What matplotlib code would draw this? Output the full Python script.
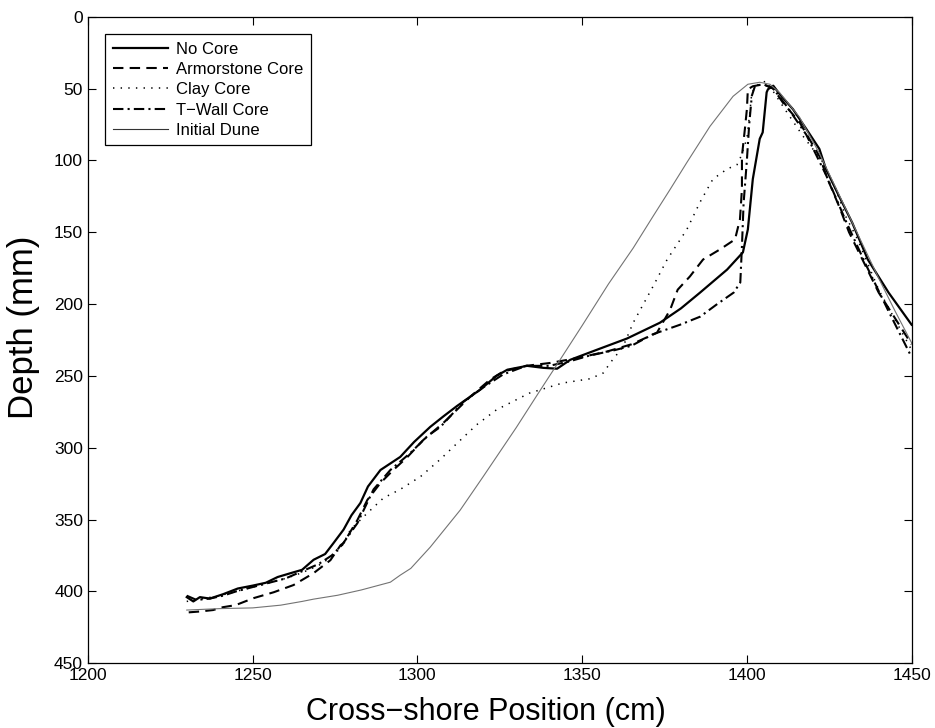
import matplotlib
matplotlib.use("Agg")
import matplotlib.pyplot as plt

plt.rcParams['font.family'] = ['Liberation Sans', 'DejaVu Sans']
plt.rcParams['lines.scale_dashes'] = False

# profiles: cross-shore position (cm) and depth (mm)
no_core_x = [1230, 1232, 1234, 1237, 1241, 1245.5, 1250, 1254, 1257.6, 1262, 1265, 1268.5,
             1272, 1274.5, 1277.6, 1280, 1282.7, 1285, 1288.8, 1294.8, 1299, 1303.9, 1308,
             1312, 1319, 1324, 1327.3, 1333.3, 1338.2, 1342.4, 1346.4, 1354.5, 1363.6,
             1373.6, 1380, 1385.8, 1394, 1398.8, 1400.3, 1401.8, 1403.9, 1404.8, 1406,
             1406.4, 1408, 1410, 1414, 1418, 1422, 1424, 1428, 1432, 1436.7, 1443, 1450]
no_core_y = [404, 407, 404, 405, 402, 398, 396, 394, 390, 387, 385, 378,
             374, 366.5, 357, 347, 338.5, 327, 315.5, 306.4, 296, 285.5, 278,
             271, 259.7, 250, 245.7, 243, 244.4, 245, 238.8, 231.8, 224,
             213, 203, 192, 176, 164, 148, 113, 85, 80.5, 52.6,
             50.5, 48, 54, 64.4, 78, 92, 106, 125, 143.5, 169, 192, 214.4]

armor_x = [1230.6, 1234, 1238, 1241, 1244.8, 1250.3, 1256.4, 1262.4, 1268.5, 1273.6, 1276.7,
           1277.6, 1281.8, 1284.8, 1288.8, 1292.7, 1297, 1301.8, 1307.9, 1316, 1322, 1326,
           1333, 1340.3, 1348.5, 1357.6, 1365, 1372.7, 1376.7, 1379, 1382.7, 1386.7, 1391.8,
           1396.4, 1397.9, 1398.5, 1398.5, 1399.4, 1400, 1400.3, 1401.8, 1405, 1408, 1411,
           1416, 1422, 1424.5, 1428, 1431, 1434, 1440, 1450]
armor_y = [414.6, 414, 413, 411, 409.6, 404.7, 400.6, 395.6, 387.3, 378.3, 367.8,
           366.4, 350.3, 336.4, 324.5, 315.5, 306.4, 294.6, 282.7, 264.6, 252.7, 247,
           243, 241, 237.6, 233, 228, 220, 204, 190, 180.8, 169, 162,
           155, 141, 120, 97, 78, 64.5, 50.5, 48.4, 47, 50, 60,
           73.5, 97, 113, 132, 150, 164, 192, 228]

clay_x = [1230, 1235, 1240, 1245, 1250, 1255, 1260, 1265, 1270, 1274, 1277, 1279.7, 1284.8,
          1289.7, 1294.8, 1301, 1307, 1312, 1318, 1324, 1334, 1344, 1352.4, 1356.4, 1358.5,
          1362.4, 1365.5, 1371.5, 1375.8, 1381.8, 1385.8, 1389.7, 1394, 1397, 1397.9, 1400,
          1401, 1401.5, 1404, 1406, 1412, 1417, 1423, 1427, 1430, 1433.6, 1440, 1450]
clay_y = [407, 405, 403, 400, 397, 394, 391, 387, 382, 376, 369, 357, 345.5,
          335, 329, 320, 308, 297, 284, 273.6, 262, 255, 252, 248, 241,
          229.7, 213, 187.8, 169, 148, 129, 113, 106, 103, 99, 85,
          64.5, 52.6, 45.6, 45, 66, 83, 101, 120, 139, 155, 190, 232]

twall_x = [1230, 1233, 1237, 1241, 1245, 1250, 1255, 1260, 1265, 1270, 1274, 1277, 1281.8,
           1286.7, 1291.8, 1297.9, 1303, 1307, 1314, 1320, 1326, 1333, 1340, 1346, 1352,
           1360, 1365, 1371.5, 1379.7, 1385.8, 1391, 1396, 1398, 1398.5, 1399, 1400, 1400.7,
           1401.5, 1402.5, 1405, 1408, 1412, 1418, 1424, 1430, 1436, 1443, 1450]
twall_y = [403, 406, 405, 403, 400, 397, 394, 391, 386, 381, 375, 368, 352.5,
           329, 315.5, 303.6, 292, 285.5, 268, 258, 249, 243, 243, 240, 236,
           232, 229, 221, 214.4, 208.8, 200, 192, 185, 160, 130, 100, 75,
           55, 48, 47, 50, 62, 82, 110, 142, 172, 205, 237]

dune_x = [1230, 1240, 1250, 1258.5, 1265, 1268.5, 1275.8, 1283, 1291.8, 1294.8, 1298, 1303.9,
          1313, 1320, 1330, 1337, 1343.3, 1350, 1358, 1365.5, 1371.5, 1376.7, 1381.8, 1388.8,
          1395.8, 1400.3, 1403.9, 1407, 1410, 1416, 1422, 1428, 1434, 1440, 1445, 1450]
dune_y = [413, 412, 411.5, 409.6, 407, 405.4, 402.7, 399, 393.6, 388.7, 384, 369.2,
          343.4, 320, 286, 261, 238.8, 215, 186, 161, 139, 120.2, 101.4, 76.3,
          55.4, 47, 45.6, 47, 53, 70, 95, 124, 153, 182, 205, 227]

fig = plt.figure(figsize=(9.35, 7.28), dpi=100)
ax = fig.add_axes([0.094, 0.089, 0.881, 0.888])

ax.plot(no_core_x, no_core_y, color='black', lw=1.6, label='No Core')
ax.plot(armor_x, armor_y, color='black', lw=1.5, dashes=[7.5, 4.5], label='Armorstone Core')
ax.plot(clay_x, clay_y, color='black', lw=1.1, dashes=[1, 4.5], label='Clay Core')
ax.plot(twall_x, twall_y, color='black', lw=1.5, dashes=[7.5, 3, 1.5, 3], label='T\u2212Wall Core')
ax.plot(dune_x, dune_y, color='0.45', lw=0.8, label='Initial Dune')

ax.set_xlim(1200, 1450)
ax.set_ylim(450, 0)
ax.set_xticks([1200, 1250, 1300, 1350, 1400, 1450])
ax.set_yticks(range(0, 451, 50))
ax.tick_params(direction='in', length=6, width=0.8, top=True, right=True, labelsize=12.5)
for s in ax.spines.values():
    s.set_linewidth(0.9)

ax.set_xlabel('Cross\u2212shore Position (cm)', fontsize=22)
ax.set_ylabel('Depth (mm)', fontsize=25)
ax.xaxis.set_label_coords(0.483, -0.052)
ax.yaxis.set_label_coords(-0.058, 0.52)

leg = ax.legend(loc='upper left', bbox_to_anchor=(0.011, 0.986), fontsize=12,
                handlelength=3.3, handletextpad=0.5, labelspacing=0.32,
                borderpad=0.45, fancybox=False, framealpha=1, edgecolor='black')
leg.get_frame().set_linewidth(0.9)
leg.legend_handles[4].set_color('0.2')

fig.savefig('out.png', dpi=100)
